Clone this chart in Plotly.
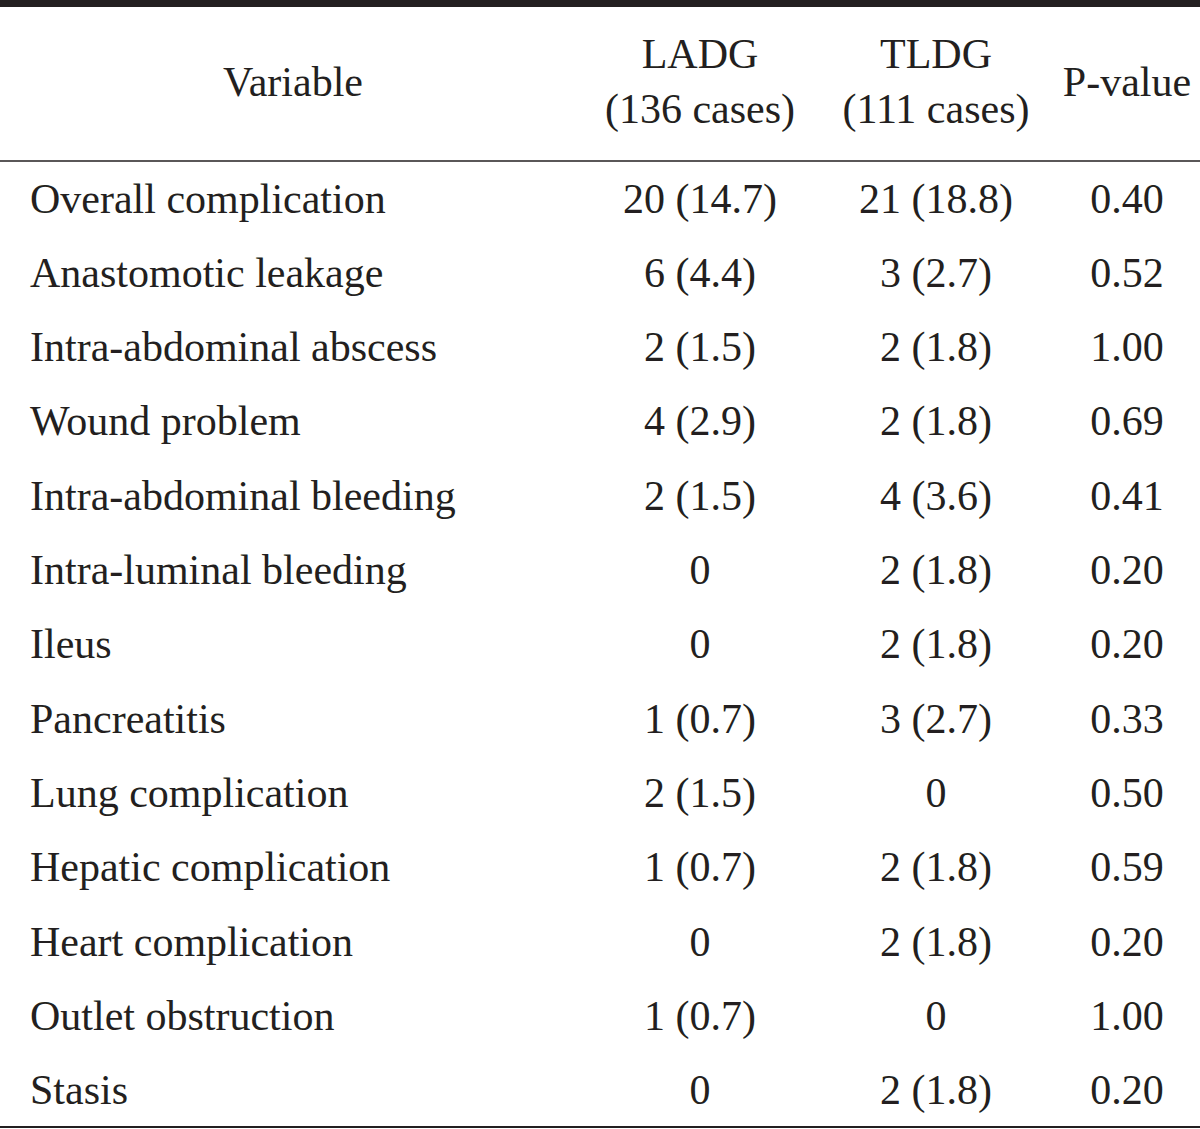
import plotly.graph_objects as go

variables = ["Overall complication", "Anastomotic leakage", "Intra-abdominal abscess",
             "Wound problem", "Intra-abdominal bleeding", "Intra-luminal bleeding", "Ileus",
             "Pancreatitis", "Lung complication", "Hepatic complication", "Heart complication",
             "Outlet obstruction", "Stasis"]
ladg = ["20 (14.7)", "6 (4.4)", "2 (1.5)", "4 (2.9)", "2 (1.5)", "0", "0", "1 (0.7)",
        "2 (1.5)", "1 (0.7)", "0", "1 (0.7)", "0"]
tldg = ["21 (18.8)", "3 (2.7)", "2 (1.8)", "2 (1.8)", "4 (3.6)", "2 (1.8)", "2 (1.8)",
        "3 (2.7)", "0", "2 (1.8)", "2 (1.8)", "0", "2 (1.8)"]
pvalues = ["0.40", "0.52", "1.00", "0.69", "0.41", "0.20", "0.20", "0.33", "0.50",
           "0.59", "0.20", "1.00", "0.20"]
header_variable = "Variable"
header_ladg = ["LADG", "(136 cases)"]
header_tldg = ["TLDG", "(111 cases)"]
header_p = "P-value"

W, H = 1200, 1129
FONT = dict(family="Liberation Serif, Times New Roman, serif", size=42, color="#231f20")

rows = list(range(len(variables)))
fig = go.Figure()

# body columns
fig.add_trace(go.Scatter(x=[30] * len(rows), y=rows, text=variables, mode="text",
                         textposition="middle right", textfont=FONT, hoverinfo="skip"))
fig.add_trace(go.Scatter(x=[700] * len(rows), y=rows, text=ladg, mode="text",
                         textposition="middle center", textfont=FONT, hoverinfo="skip"))
fig.add_trace(go.Scatter(x=[936] * len(rows), y=rows, text=tldg, mode="text",
                         textposition="middle center", textfont=FONT, hoverinfo="skip"))
fig.add_trace(go.Scatter(x=[1127] * len(rows), y=rows, text=pvalues, mode="text",
                         textposition="middle center", textfont=FONT, hoverinfo="skip"))

# header
hx = [293, 700, 700, 936, 936, 1127]
hy = [-1.57, -1.94, -1.2, -1.94, -1.2, -1.57]
ht = [header_variable, header_ladg[0], header_ladg[1], header_tldg[0], header_tldg[1], header_p]
fig.add_trace(go.Scatter(x=hx, y=hy, text=ht, mode="text", textposition="middle center",
                         textfont=FONT, hoverinfo="skip"))

step = 74.33
base = 202
y_top = (0 - base) / step
y_bot = (H - base) / step

def py(p):
    return (p - base) / step

line_col = "#231f20"
fig.add_shape(type="line", x0=0, x1=W, y0=py(3.5), y1=py(3.5), line=dict(color=line_col, width=7))
fig.add_shape(type="line", x0=0, x1=W, y0=py(161), y1=py(161), line=dict(color=line_col, width=1.5))
fig.add_shape(type="line", x0=0, x1=W, y0=py(1127), y1=py(1127), line=dict(color=line_col, width=2))

fig.update_layout(
    width=W, height=H, margin=dict(l=0, r=0, t=0, b=0),
    paper_bgcolor="white", plot_bgcolor="white", showlegend=False,
    xaxis=dict(range=[0, W], visible=False, fixedrange=True),
    yaxis=dict(range=[y_bot, y_top], visible=False, fixedrange=True),
)
fig.write_html("out.html", config={"displayModeBar": False},
               post_script="document.body.style.margin='0px';document.body.style.overflow='hidden';")
